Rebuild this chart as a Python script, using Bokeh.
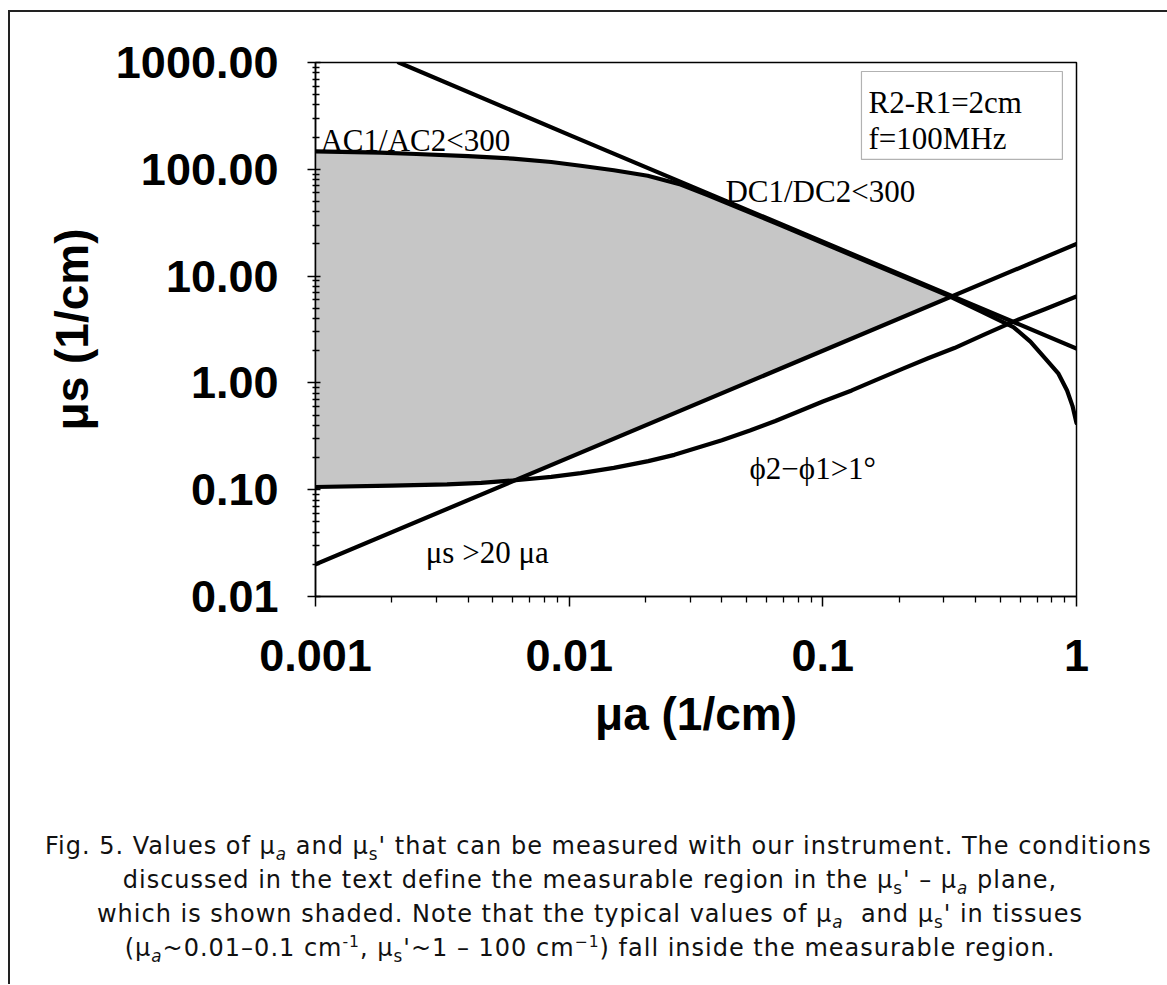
import numpy as np
from bokeh.plotting import figure
from bokeh.models import FixedTicker, Label, BoxAnnotation, Div, CustomJSTickFormatter
from bokeh.layouts import column
from bokeh.embed import file_html
from bokeh.resources import INLINE

# ---------------- data ----------------
# condition  mu_s > 20 mu_a
mua_ratio = [0.001, 1.0]
mus_ratio = [0.02, 20.0]

# DC1/DC2 < 300
mua_dc = [0.00213, 0.01, 0.1, 1.0]
mus_dc = [1000.0, 210.0, 21.0, 2.1]

# AC1/AC2 < 300
mua_ac = [0.001, 0.0018, 0.0025, 0.004, 0.006, 0.0085, 0.0111, 0.015, 0.0204,
          0.0275, 0.0351, 0.0473, 0.068, 0.15, 0.31, 0.418, 0.564, 0.658,
          0.766, 0.849, 0.918, 0.964, 1.0]
mus_ac = [147.0, 143.0, 139.0, 133.0, 126.0, 117.0, 108.0, 98.0, 87.0,
          72.0, 57.5, 43.0, 30.0, 13.6, 6.6, 4.7, 3.33, 2.44,
          1.62, 1.22, 0.85, 0.61, 0.42]

# phi2 - phi1 > 1 deg
mua_phase = [0.001, 0.002, 0.0033, 0.0045, 0.006, 0.0085, 0.0111, 0.015, 0.0205,
             0.026, 0.0325, 0.04, 0.0516, 0.065, 0.082, 0.1, 0.130, 0.16, 0.207,
             0.26, 0.33, 0.43, 0.564, 0.75, 1.0]
mus_phase = [0.106, 0.109, 0.112, 0.116, 0.122, 0.132, 0.143, 0.16, 0.185,
             0.212, 0.25, 0.29, 0.358, 0.44, 0.552, 0.67, 0.85, 1.05, 1.36,
             1.70, 2.12, 2.82, 3.75, 4.9, 6.44]

x_tick_values = [0.001, 0.01, 0.1, 1.0]
x_tick_labels = ["0.001", "0.01", "0.1", "1"]
y_tick_values = [0.01, 0.1, 1.0, 10.0, 100.0, 1000.0]
y_tick_labels = ["0.01", "0.10", "1.00", "10.00", "100.00", "1000.00"]

# ---------------- figure ----------------
p = figure(width=1150, height=750, x_axis_type="log", y_axis_type="log",
           x_range=(0.001, 1.0), y_range=(0.01, 1000.0),
           output_backend="svg", toolbar_location=None,
           min_border_left=305, min_border_right=84,
           min_border_top=50, min_border_bottom=166)
p.grid.visible = False
p.outline_line_color = "black"
p.outline_line_width = 1.5
p.background_fill_color = "white"
p.border_fill_color = "white"

# shaded measurable region (between the boundary curves)
lx = np.linspace(-3, 0, 1200)
top = np.interp(lx, np.log10(mua_ac), np.log10(mus_ac))
bot = np.maximum(np.interp(lx, np.log10(mua_phase), np.log10(mus_phase)),
                 np.interp(lx, np.log10(mua_ratio), np.log10(mus_ratio)))
m = top >= bot
p.varea(x=10 ** lx[m], y1=10 ** bot[m], y2=10 ** top[m],
        fill_color="#c6c6c6", fill_alpha=1.0)

lw = 4.2
for xs, ys in ((mua_phase, mus_phase), (mua_ratio, mus_ratio),
               (mua_dc, mus_dc), (mua_ac, mus_ac)):
    p.line(xs, ys, line_color="black", line_width=lw, line_join="round", line_cap="round")

# ---------------- axes ----------------
fmt_code = """
for (let i = 0; i < vals.length; i++) {
  if (Math.abs(Math.log10(tick) - Math.log10(vals[i])) < 1e-6) return labs[i];
}
return "";
"""
xminor = [m_ * 10.0 ** e for e in range(-3, 0) for m_ in range(2, 10)]
yminor = [m_ * 10.0 ** e for e in range(-2, 3) for m_ in range(2, 10)]
p.xaxis.ticker = FixedTicker(ticks=x_tick_values, minor_ticks=xminor)
p.yaxis.ticker = FixedTicker(ticks=y_tick_values, minor_ticks=yminor)
p.xaxis.formatter = CustomJSTickFormatter(args=dict(vals=x_tick_values, labs=x_tick_labels), code=fmt_code)
p.yaxis.formatter = CustomJSTickFormatter(args=dict(vals=y_tick_values, labs=y_tick_labels), code=fmt_code)

for ax in (p.xaxis[0], p.yaxis[0]):
    ax.axis_line_color = "black"
    ax.axis_line_width = 1.5
    ax.major_tick_line_color = "black"
    ax.minor_tick_line_color = "black"
    ax.major_tick_line_width = 1.5
    ax.minor_tick_line_width = 1.3
    ax.major_label_text_font = "Liberation Sans"
    ax.major_label_text_font_size = "45px"
    ax.major_label_text_font_style = "bold"
    ax.major_label_text_color = "black"
    ax.axis_label_text_font = "Liberation Sans"
    ax.axis_label_text_font_size = "46px"
    ax.axis_label_text_font_style = "bold"
    ax.axis_label_text_color = "black"

p.yaxis.major_tick_in = 5
p.yaxis.major_tick_out = 8
p.yaxis.minor_tick_in = 4
p.yaxis.minor_tick_out = 3
p.yaxis.major_label_standoff = 29
p.yaxis.axis_label = "μs (1/cm)"
p.yaxis.axis_label_standoff = 15

p.xaxis.major_tick_in = 0
p.xaxis.major_tick_out = 10
p.xaxis.minor_tick_in = 0
p.xaxis.minor_tick_out = 6
p.xaxis.major_label_standoff = 33
p.xaxis.axis_label = "μa (1/cm)"
p.xaxis.axis_label_standoff = 14

# ---------------- in-plot texts ----------------
serif = "Liberation Serif"
fs = "31px"
def lab(x, y, t):
    p.add_layout(Label(x=x, y=y, text=t, text_font=serif, text_font_size=fs,
                       text_color="black", text_align="left", text_baseline="alphabetic"))

lab(0.001046, 186.0, "AC1/AC2<300")
lab(0.0413, 62.0, "DC1/DC2<300")
lab(0.0514, 0.158, "ϕ2−ϕ1>1°")
lab(0.00272, 0.0258, "μs >20 μa")
lab(0.1513, 422.0, "R2-R1=2cm")
lab(0.1513, 194.0, "f=100MHz")
p.add_layout(BoxAnnotation(left=0.142, right=0.88, top=824.0, bottom=123.6,
                           fill_alpha=0.0, line_color="black", line_width=1.2))

# ---------------- caption ----------------
sub = '<sub style="font-size:70%;line-height:0;">'
sup = '<sup style="font-size:65%;line-height:0;">'
caption_html = (
    '<div style="font-family:\'DejaVu Sans\';font-size:24px;line-height:34px;letter-spacing:1px;'
    'text-align:center;color:#111;padding-top:62px;padding-left:30px;width:1120px;white-space:nowrap;">'
    'Fig. 5. Values of μ' + sub + '<i>a</i></sub> and μ' + sub + 's</sub>\' that can be measured with our instrument. The conditions<br>'
    'discussed in the text define the measurable region in the μ' + sub + 's</sub>\' – μ' + sub + '<i>a</i></sub> plane,<br>'
    'which is shown shaded. Note that the typical values of μ' + sub + '<i>a</i></sub>&nbsp; and μ' + sub + 's</sub>\' in tissues<br>'
    '(μ' + sub + '<i>a</i></sub>~0.01–0.1 cm' + sup + '-1</sup>, μ' + sub + 's</sub>\'~1 – 100 cm' + sup + '−1</sup>) fall inside the measurable region.'
    '</div>'
)
cap = Div(text=caption_html, width=1150, height=212)

layout = column(p, cap, styles={"border-left": "2px solid #222", "border-top": "2px solid #222",
                                "background-color": "white",
                                "margin-left": "8px", "margin-top": "10px"})

open("out.html", "w").write(file_html(layout, INLINE))
